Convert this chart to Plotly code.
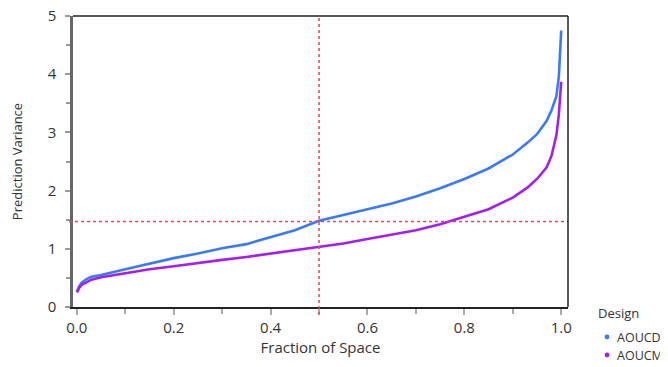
import plotly.graph_objects as go

fraction = [0, 0.005, 0.01, 0.02, 0.03, 0.05, 0.1, 0.15, 0.2, 0.25, 0.3, 0.35, 0.4, 0.45,
            0.5, 0.55, 0.6, 0.65, 0.7, 0.75, 0.8, 0.85, 0.9, 0.93, 0.95, 0.97, 0.98, 0.99, 0.995, 1.0]
aoucd = [0.26, 0.36, 0.42, 0.48, 0.52, 0.55, 0.65, 0.75, 0.84, 0.92, 1.01, 1.08, 1.2, 1.32,
         1.48, 1.58, 1.67, 1.78, 1.9, 2.04, 2.2, 2.38, 2.62, 2.82, 2.97, 3.2, 3.38, 3.62, 3.95, 4.75]
aoucm = [0.25, 0.33, 0.38, 0.43, 0.47, 0.51, 0.58, 0.65, 0.7, 0.76, 0.81, 0.86, 0.92, 0.97,
         1.03, 1.09, 1.17, 1.25, 1.32, 1.42, 1.55, 1.68, 1.88, 2.05, 2.2, 2.4, 2.6, 2.95, 3.3, 3.87]
series_names = ["AOUCD", "AOUCM"]
series_colors = ["#3a7af3", "#a21ff0"]
legend_title = "Design"
ref_x = 0.5
ref_y = 1.47

font = "Open Sans, Noto Sans, sans-serif"
# page has an 8px body margin; figure laid out in its own coordinates
W, H = 660, 359
L, R, T, B = 65, 100, 8, 60
pw, ph = W - L - R, H - T - B

fig = go.Figure()
for name, ys, col in zip(series_names, [aoucd, aoucm], series_colors):
    fig.add_trace(go.Scatter(x=fraction, y=ys, mode="lines", line=dict(color=col, width=2.6),
                             showlegend=False, name=name))

red = "#f5404c"
fig.add_shape(type="line", xref="x", yref="paper", x0=ref_x, x1=ref_x, y0=-8 / ph, y1=1,
              line=dict(color=red, width=1.5, dash="dot"))
fig.add_shape(type="line", xref="paper", yref="y", x0=-4 / pw, x1=1, y0=ref_y, y1=ref_y,
              line=dict(color=red, width=1.5, dash="dot"))
fig.add_shape(type="line", xref="paper", yref="paper", x0=0, x1=1, y0=1, y1=1,
              line=dict(color="#222", width=1.5), layer="above")
fig.add_shape(type="line", xref="paper", yref="paper", x0=1, x1=1, y0=0, y1=1,
              line=dict(color="#222", width=1.5), layer="above")

# legend drawn by hand (page pixels converted to paper coords)
def px(xp):
    return (xp - 8 - L) / pw

def py(yp):
    return (H - B - (yp - 8)) / ph

fig.add_annotation(text=legend_title, xref="paper", yref="paper", x=px(596), y=py(313),
                   xanchor="left", yanchor="middle", showarrow=False,
                   font=dict(size=13, color="#333"))
for i, (name, col) in enumerate(zip(series_names, series_colors)):
    yc = 337 + 18 * i
    fig.add_shape(type="circle", xref="paper", yref="paper",
                  x0=px(604.6), x1=px(609.4), y0=py(yc + 2.4), y1=py(yc - 2.4),
                  fillcolor=col, line=dict(width=0))
    fig.add_annotation(text=name, xref="paper", yref="paper", x=px(615), y=py(yc),
                       xanchor="left", yanchor="middle", showarrow=False,
                       font=dict(size=12.5, color="#333"))

fig.update_layout(
    width=W, height=H,
    margin=dict(l=L, r=R, t=T, b=B, autoexpand=False),
    paper_bgcolor="white", plot_bgcolor="white",
    font=dict(family=font, color="#333", size=15),
    showlegend=False,
    xaxis=dict(range=[-0.008, 1.014], tickvals=[0, 0.2, 0.4, 0.6, 0.8, 1.0], tickformat=".1f",
               showgrid=False, zeroline=False, showline=True, linecolor="#222", linewidth=1.5,
               ticks="outside", ticklen=6, tickcolor="#aaa", tickwidth=1.5,
               ticklabeloverflow="allow",
               minor=dict(dtick=0.1, tick0=0, ticks="outside", ticklen=5, tickcolor="#aaa"),
               title=dict(text="Fraction of Space", font=dict(size=15, color="#333"), standoff=3)),
    yaxis=dict(range=[0, 5], dtick=1, showgrid=False, zeroline=False, showline=True,
               linecolor="#666", linewidth=2.5, ticks="outside", ticklen=5, tickcolor="#999",
               tickwidth=1.5, ticklabelstandoff=6, ticklabeloverflow="allow",
               minor=dict(dtick=0.5, ticks="outside", ticklen=4, tickcolor="#999"),
               title=dict(text="Prediction Variance", font=dict(size=13, color="#333"), standoff=24)),
)
fig.write_html("out.html")
